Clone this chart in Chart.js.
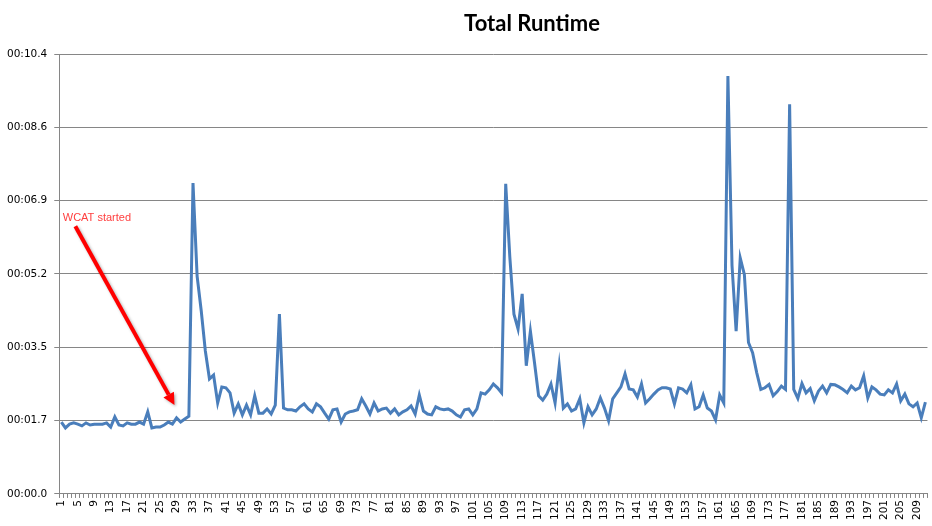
<!DOCTYPE html>
<html>
<head>
<meta charset="utf-8">
<script src="https://cdn.jsdelivr.net/npm/chart.js@4.4.1/dist/chart.umd.min.js"></script>
<style>
  html, body { margin: 0; padding: 0; background: #fff; }
  #wrap { width: 932px; height: 526px; overflow: hidden; }
  #inner { width: 940px; height: 526px; position: relative; }
</style>
</head>
<body>
<div id="wrap"><div id="inner"><canvas id="grafico"></canvas></div></div>
<script>
// Total Runtime - tempo de execução por rodada (segundos)

const categorias = Array.from({ length: 211 }, (_, i) => String(i + 1));

const tempoExecucao = [
  1.70, 1.56, 1.65, 1.68, 1.65, 1.61, 1.68, 1.63, 1.65, 1.65,
  1.65, 1.68, 1.58, 1.82, 1.63, 1.61, 1.68, 1.65, 1.65, 1.70,
  1.65, 1.94, 1.56, 1.58, 1.58, 1.63, 1.70, 1.65, 1.80, 1.70,
  1.77, 1.84, 7.35, 5.15, 4.33, 3.38, 2.72, 2.81, 2.15, 2.53,
  2.51, 2.39, 1.91, 2.13, 1.87, 2.10, 1.87, 2.32, 1.91, 1.91,
  2.01, 1.89, 2.10, 4.25, 2.03, 1.99, 1.99, 1.96, 2.06, 2.13,
  2.01, 1.94, 2.13, 2.06, 1.91, 1.77, 1.99, 2.01, 1.70, 1.89,
  1.94, 1.96, 1.99, 2.25, 2.08, 1.89, 2.15, 1.96, 2.01, 2.03,
  1.91, 2.01, 1.87, 1.94, 1.99, 2.08, 1.89, 2.34, 1.96, 1.89,
  1.87, 2.06, 2.01, 1.99, 2.01, 1.96, 1.87, 1.82, 1.99, 2.01,
  1.87, 2.01, 2.39, 2.36, 2.46, 2.60, 2.51, 2.39, 7.33, 5.60,
  4.25, 3.90, 4.73, 3.03, 3.85, 3.10, 2.32, 2.22, 2.36, 2.60,
  2.15, 3.03, 2.03, 2.13, 1.96, 2.01, 2.25, 1.68, 2.06, 1.87,
  2.01, 2.27, 2.03, 1.73, 2.25, 2.39, 2.53, 2.84, 2.48, 2.46,
  2.29, 2.60, 2.15, 2.25, 2.36, 2.46, 2.51, 2.51, 2.48, 2.13,
  2.51, 2.48, 2.39, 2.58, 2.01, 2.06, 2.34, 2.03, 1.96, 1.75,
  2.34, 2.15, 9.88, 5.40, 3.85, 5.58, 5.19, 3.58, 3.34, 2.87,
  2.47, 2.51, 2.59, 2.32, 2.42, 2.55, 2.47, 9.21, 2.47, 2.26,
  2.61, 2.39, 2.49, 2.20, 2.43, 2.55, 2.39, 2.59, 2.58, 2.53,
  2.47, 2.39, 2.55, 2.46, 2.51, 2.79, 2.27, 2.53, 2.46, 2.36,
  2.34, 2.46, 2.39, 2.60, 2.20, 2.36, 2.13, 2.06, 2.15, 1.80,
  2.17
];

const ticksY = [0, 1.7333, 3.4667, 5.2, 6.9333, 8.6667, 10.4];
const rotulosY = ['00:00.0', '00:01.7', '00:03.5', '00:05.2', '00:06.9', '00:08.6', '00:10.4'];

const titulo = 'Total Runtime';
const anotacao = 'WCAT started';

// Título e seta "WCAT started" desenhados por cima do gráfico
const pluginExtras = {
  id: 'extras',
  afterDraw(chart) {
    const { ctx, scales: { x, y } } = chart;
    ctx.save();

    ctx.font = 'bold 22px Lato';
    ctx.fillStyle = '#000';
    ctx.textAlign = 'center';
    ctx.textBaseline = 'alphabetic';
    ctx.fillText(titulo, 532, 31);

    ctx.font = '11px "Liberation Sans"';
    ctx.fillStyle = '#ff4040';
    ctx.textAlign = 'left';
    ctx.fillText(anotacao, x.getPixelForValue(0.35), y.getPixelForValue(6.45));

    const x0 = x.getPixelForValue(3.4), y0 = y.getPixelForValue(6.33);
    const x1 = x.getPixelForValue(27.5), y1 = y.getPixelForValue(2.10);
    const ang = Math.atan2(y1 - y0, x1 - x0);
    const ponta = 12, largura = 6;

    ctx.shadowColor = 'rgba(0,0,0,0.3)';
    ctx.shadowBlur = 3;
    ctx.shadowOffsetX = 1.5;
    ctx.shadowOffsetY = 1.5;
    ctx.strokeStyle = '#ff0000';
    ctx.fillStyle = '#ff0000';
    ctx.lineWidth = 4;
    ctx.beginPath();
    ctx.moveTo(x0, y0);
    ctx.lineTo(x1 - ponta * Math.cos(ang), y1 - ponta * Math.sin(ang));
    ctx.stroke();

    ctx.beginPath();
    ctx.moveTo(x1, y1);
    ctx.lineTo(x1 - ponta * Math.cos(ang) + largura * Math.sin(ang), y1 - ponta * Math.sin(ang) - largura * Math.cos(ang));
    ctx.lineTo(x1 - ponta * Math.cos(ang) - largura * Math.sin(ang), y1 - ponta * Math.sin(ang) + largura * Math.cos(ang));
    ctx.closePath();
    ctx.fill();

    ctx.restore();
  }
};

new Chart(document.getElementById('grafico'), {
  type: 'line',
  data: {
    labels: categorias,
    datasets: [{
      label: titulo,
      data: tempoExecucao,
      borderColor: '#4a7ebb',
      borderWidth: 3,
      pointRadius: 0,
      tension: 0,
      fill: false
    }]
  },
  options: {
    responsive: true,
    maintainAspectRatio: false,
    animation: false,
    layout: { padding: { top: 54, right: 0, left: 0, bottom: 4 } },
    plugins: {
      legend: { display: false },
      title: { display: false },
      tooltip: { enabled: false }
    },
    scales: {
      x: {
        offset: true,
        grid: { drawOnChartArea: false, drawTicks: true, tickLength: 4, color: '#868686', offset: true },
        border: { color: '#868686' },
        ticks: {
          autoSkip: false,
          maxRotation: 90,
          minRotation: 90,
          padding: 2,
          color: '#000',
          font: { family: 'DejaVu Sans', size: 10.5 },
          callback: (v, i) => (i % 4 === 0 ? categorias[i] : '')
        }
      },
      y: {
        min: 0,
        max: 10.4,
        afterBuildTicks: (escala) => { escala.ticks = ticksY.map((v) => ({ value: v })); },
        grid: { color: '#868686', tickLength: 5 },
        border: { color: '#868686' },
        ticks: {
          padding: 7,
          color: '#000',
          font: { family: 'DejaVu Sans', size: 10.5 },
          callback: (v, i) => rotulosY[i]
        }
      }
    }
  },
  plugins: [pluginExtras]
});
</script>
</body>
</html>
